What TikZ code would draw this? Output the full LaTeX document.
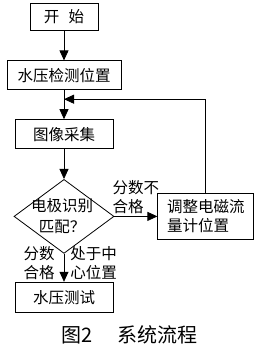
\documentclass[tikz,border=0pt]{standalone}
\usepackage{fontspec}
\setmainfont{Noto Sans CJK SC}
\usetikzlibrary{shapes.geometric, arrows.meta, positioning, calc}

\begin{document}
\begin{tikzpicture}[
  proc/.style={rectangle, draw, line width=0.8pt, minimum height=29pt, inner sep=0pt,
               align=center, font=\fontsize{15.5}{19}\selectfont},
  decision/.style={diamond, draw, line width=0.8pt, minimum width=100pt, minimum height=74pt,
                   inner sep=0pt},
  note/.style={align=left, inner sep=0pt, font=\fontsize{15.5}{19}\selectfont},
  arrow/.style={-{Triangle[length=10pt, width=9pt]}, line width=0.8pt},
]
  \useasboundingbox (0,0) rectangle (259pt,-345pt);

  \node[proc, minimum width=68pt, minimum height=27pt] (start) at (64pt,-16.5pt) {开\hspace{0.6em}始};
  \node[proc, minimum width=114pt, below=30pt of start] (detect) {水压检测位置};
  \node[proc, minimum width=98pt, below=29pt of detect] (capture) {图像采集};
  \node[decision, below=30pt of capture] (decide) {};
  \node[note, align=center, font=\fontsize{15.5}{21}\selectfont, xshift=-2pt] (decidetext) at (decide) {电极识别\\匹配？};
  \node[proc, minimum width=98pt, minimum height=30pt, below=28pt of decide] (test) {水压测试};
  \node[proc, minimum width=96pt, minimum height=46pt, align=left, right=43pt of decide] (adjust) {调整电磁流\\量计位置};
  \coordinate (merge) at ($(detect.south)!0.31!(capture.north)$);

  \node[font=\fontsize{20}{23}\selectfont] (caption) at (129.5pt,-335pt) {图2\hspace{1.2em}系统流程};

  \foreach \from/\to in {start/detect, detect/capture, capture/decide}
    \draw[arrow] (\from) -- (\to);
  \draw[arrow] (decide) -- node[note, above=2pt] (faillabel) {分数不\\合格} (adjust);
  \draw[arrow] (decide) -- node[note, left=9pt, yshift=5pt] (passlabel) {分数\\合格}
                           node[note, right=6pt, yshift=5pt] (centerlabel) {处于中\\心位置} (test);
  \draw[arrow] (adjust.north) |- (merge);
\end{tikzpicture}
\end{document}
